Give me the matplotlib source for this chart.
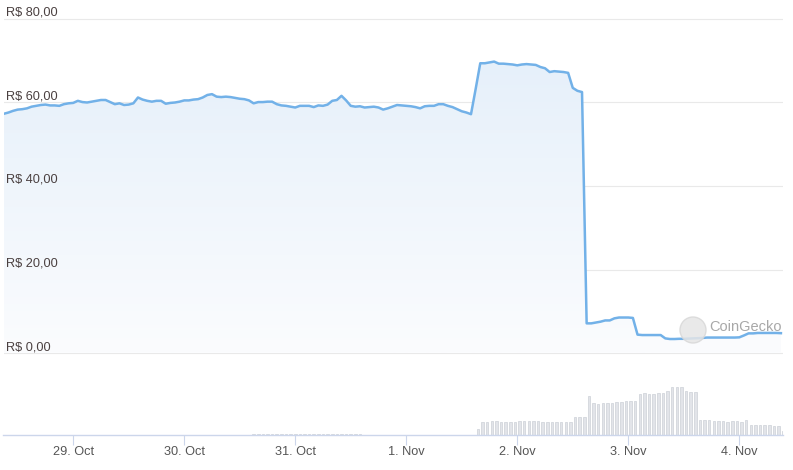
import numpy as np
import matplotlib
matplotlib.use("Agg")
import matplotlib.pyplot as plt
import matplotlib.dates as mdates
from matplotlib.colors import LinearSegmentedColormap
from matplotlib.patches import Ellipse
from datetime import datetime, timedelta

plt.rcParams['font.family'] = ['Liberation Sans', 'DejaVu Sans']

# hourly price in BRL, starting 28 Oct 09:00
start = datetime(2020, 10, 28, 9, 0)
price = [
    57.3, 57.6, 58.0, 58.3, 58.4, 58.6, 59.0, 59.2, 59.4, 59.5,
    59.3, 59.3, 59.2, 59.6, 59.8, 59.9, 60.4, 60.1, 60.0, 60.2,
    60.4, 60.6, 60.6, 60.1, 59.6, 59.8, 59.4, 59.5, 59.8, 61.2,
    60.7, 60.4, 60.2, 60.4, 60.4, 59.7, 59.9, 60.0, 60.2, 60.5,
    60.5, 60.7, 60.8, 61.2, 61.8, 62.0, 61.4, 61.3, 61.4, 61.3,
    61.1, 60.9, 60.8, 60.5, 59.8, 60.1, 60.1, 60.2, 60.2, 59.6,
    59.3, 59.2, 59.0, 58.8, 59.2, 59.2, 59.2, 58.9, 59.3, 59.2,
    59.5, 60.4, 60.6, 61.6, 60.5, 59.2, 59.0, 59.1, 58.8, 58.9,
    59.0, 58.8, 58.3, 58.6, 59.0, 59.4, 59.3, 59.2, 59.1, 58.9,
    58.6, 59.1, 59.2, 59.2, 59.6, 59.6, 59.2, 58.9, 58.4, 57.9,
    57.6, 57.2, 63.2, 69.4, 69.4, 69.6, 69.8, 69.3, 69.3, 69.2,
    69.1, 68.9, 69.1, 69.2, 69.1, 69.0, 68.5, 68.2, 67.3, 67.5,
    67.4, 67.3, 67.1, 63.5, 62.8, 62.5, 7.1, 7.1, 7.3, 7.5,
    7.8, 7.8, 8.3, 8.5, 8.5, 8.5, 8.4, 4.4, 4.3, 4.3,
    4.3, 4.3, 4.3, 3.5, 3.35, 3.35, 3.4, 3.4, 3.45, 3.5,
    3.55, 3.6, 3.7, 3.7, 3.7, 3.7, 3.7, 3.7, 3.7, 3.75,
    4.2, 4.7, 4.7, 4.8, 4.8, 4.8, 4.8, 4.8, 4.75,
]
price_times = [start + timedelta(hours=i) for i in range(len(price))]

# hourly volume (relative units), tiny trades on 31 Oct
vol_small_start = datetime(2020, 10, 30, 15, 0)
vol_small = [0.8] * 24
vol_start = datetime(2020, 11, 1, 15, 30)
volume = [
    6, 13, 13, 14, 14, 13, 13, 13, 13, 14, 14, 14, 14, 14, 13, 13, 13,
    13, 13, 13, 13, 18, 18, 18, 39, 32, 31, 32, 32, 32, 33, 33, 34, 34,
    34, 41, 42, 41, 41, 42, 42, 44, 48, 48, 48, 44, 43, 43, 15, 15, 15,
    14, 14, 14, 13, 14, 14, 13, 15, 10, 10, 10, 10, 10, 9, 9, 4,
]
vol_times = ([vol_small_start + timedelta(hours=i) for i in range(len(vol_small))]
             + [vol_start + timedelta(hours=i) for i in range(len(volume))])
vol_values = vol_small + volume

y_ticks = [0, 20, 40, 60, 80]
day_ticks = [datetime(2020, 10, 29) + timedelta(days=d) for d in range(7)]

W, H = 793, 470
fig = plt.figure(figsize=(W / 100, H / 100), dpi=100)
ax = fig.add_axes([3.5 / W, (H - 435) / H, (783 - 3.5) / W, 435 / H])

t = mdates.date2num(price_times)
p = np.array(price)

# volume bars on a twin axis, drawn behind
axv = ax.twinx()
axv.bar(mdates.date2num(vol_times), vol_values, width=0.55 / 24,
        color="#e2e4e9", edgecolor="#d3d6dc", linewidth=0.6, zorder=1)
axv.set_ylim(0, 435)
axv.axis("off")
ax.set_zorder(axv.get_zorder() + 1)
ax.patch.set_visible(False)

# gradient fill under the line
ylo, yhi = -19.64, 84.55
cmap = LinearSegmentedColormap.from_list("fade", ["#fbfcfe", "#e6f0fa"])
grad = np.linspace(0, 1, 256).reshape(-1, 1)
img = ax.imshow(grad, cmap=cmap, aspect="auto", origin="lower",
                extent=[t[0], t[-1], 0, 70], zorder=1)
poly = ax.fill_between(t, p, 0, color="none")
img.set_clip_path(poly.get_paths()[0], transform=ax.transData)

ax.plot(t, p, color="#72b1e8", linewidth=1.8, zorder=3, solid_joinstyle="round")

ax.set_ylim(ylo, yhi)
ax.set_xlim(mdates.date2num(datetime(2020, 10, 29) - timedelta(hours=15.07)),
            mdates.date2num(datetime(2020, 10, 29) + timedelta(hours=153.45)))

ax.set_yticks(y_ticks)
ax.set_yticklabels([f"R$ {v:.2f}".replace(".", ",") for v in y_ticks])
ax.tick_params(axis="y", length=0, pad=-1.5, labelsize=9.2, labelcolor="#4a4040")
for lab in ax.get_yticklabels():
    lab.set_horizontalalignment("left")
    lab.set_verticalalignment("bottom")
for v in y_ticks:
    ax.axhline(v, color="#e9e9e9", linewidth=0.8, zorder=0)

ax.set_xticks(mdates.date2num(day_ticks))
ax.set_xticklabels([f"{d.day}. {d.strftime('%b')}" for d in day_ticks])
ax.tick_params(axis="x", length=7.5, width=0.8, color="#ccd6eb", pad=0.5,
               labelsize=9.2, labelcolor="#555555")

for s in ["top", "left", "right"]:
    ax.spines[s].set_visible(False)
ax.spines["bottom"].set_color("#ccd6eb")
ax.spines["bottom"].set_linewidth(1)

# CoinGecko watermark
fig.add_artist(Ellipse((693 / W, 1 - 330 / H), 26 / W, 26 / H,
                       transform=fig.transFigure, facecolor="#e6e6e6",
                       edgecolor="#d8d8d8", alpha=0.85, zorder=5))
fig.text(709 / W, 1 - 327 / H, "CoinGecko", fontsize=10.5, color="#a8a8a8",
         va="center", ha="left", zorder=6)

fig.savefig("out.png", dpi=100)
